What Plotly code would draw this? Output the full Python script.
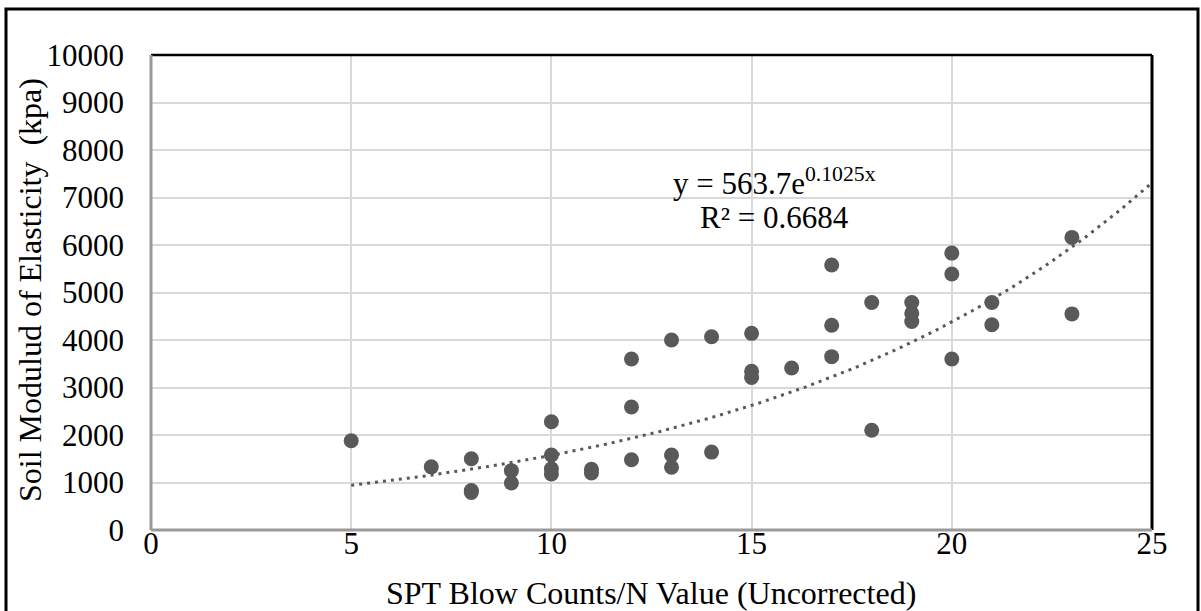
import numpy as np
import plotly.graph_objects as go

# Data
spt_n = [5, 7, 8, 8, 8, 9, 9, 10, 10, 10, 10, 11, 11, 12, 12, 12, 13, 13, 13,
         14, 14, 15, 15, 15, 16, 17, 17, 17, 18, 18, 19, 19, 19, 20, 20, 20,
         21, 21, 23, 23]
modulus_kpa = [1880, 1330, 1500, 830, 790, 1250, 990, 2280, 1580, 1290, 1180,
               1280, 1200, 3600, 2590, 1480, 4000, 1580, 1320, 4070, 1640,
               4140, 3340, 3210, 3410, 5580, 4310, 3650, 4790, 2100, 4790,
               4560, 4390, 5830, 5390, 3600, 4790, 4320, 6160, 4550]

# Exponential trendline shown on the chart
trend_a = 563.7
trend_b = 0.1025
trend_x_start, trend_x_end = 5, 25

x_ticks = [0, 5, 10, 15, 20, 25]
y_ticks = list(range(0, 10001, 1000))
y_tick_labels = [str(v) for v in y_ticks]

FONT = "Liberation Serif, Times New Roman, serif"
MARK = "#595959"
FS = 31

tx = np.linspace(trend_x_start, trend_x_end, 200)
ty = trend_a * np.exp(trend_b * tx)

fig = go.Figure()
fig.add_trace(go.Scatter(
    x=tx, y=ty, mode="lines",
    line=dict(color=MARK, width=3, dash="3px,5px"),
    hoverinfo="skip", showlegend=False))
fig.add_trace(go.Scatter(
    x=spt_n, y=modulus_kpa, mode="markers",
    marker=dict(color=MARK, size=15, line=dict(width=0)),
    showlegend=False))

fig.update_layout(
    width=1201, height=611,
    margin=dict(l=151, r=49, t=55, b=81),
    paper_bgcolor="white", plot_bgcolor="white",
    font=dict(family=FONT, size=FS, color="black"),
    xaxis=dict(range=[0, 25], tickvals=x_ticks, showgrid=True,
               gridcolor="#d9d9d9", gridwidth=2, zeroline=False,
               showline=False, ticks="", ticklabelstandoff=-8,
               tickfont=dict(family=FONT, size=FS, color="black")),
    yaxis=dict(range=[0, 10000], tickvals=y_ticks, ticktext=y_tick_labels,
               showgrid=True, gridcolor="#d9d9d9", gridwidth=2,
               zeroline=False, showline=False, ticks="",
               ticklabelstandoff=26,
               tickfont=dict(family=FONT, size=FS, color="black")),
    annotations=[
        dict(x=15.58, y=7330, xref="x", yref="y", showarrow=False,
             text="y = 563.7e<sup>0.1025x</sup>",
             font=dict(family=FONT, size=FS, color="black")),
        dict(x=15.58, y=6570, xref="x", yref="y", showarrow=False,
             text="R² = 0.6684", font=dict(family=FONT, size=FS, color="black")),
        dict(x=(651 - 151) / 1001, y=(530 - 593) / 475, xref="paper",
             yref="paper", showarrow=False, xanchor="center",
             yanchor="middle",
             text="SPT Blow Counts/N Value (Uncorrected)",
             font=dict(family=FONT, size=32, color="black")),
        dict(x=(30 - 151) / 1001, y=(530 - 290) / 475, xref="paper",
             yref="paper", showarrow=False, xanchor="center",
             yanchor="middle", textangle=-90,
             text="Soil Modulud of Elasticity  (kpa)",
             font=dict(family=FONT, size=32, color="black")),
    ],
    shapes=[
        # plot area borders
        dict(type="line", xref="paper", yref="paper", x0=0, x1=1, y0=1, y1=1,
             line=dict(color="black", width=2.5)),
        dict(type="line", xref="paper", yref="paper", x0=1, x1=1, y0=0, y1=1,
             line=dict(color="black", width=3)),
        dict(type="line", xref="paper", yref="paper", x0=0, x1=0, y0=0, y1=1,
             line=dict(color="#9a9a9a", width=3)),
        dict(type="line", xref="paper", yref="paper", x0=0, x1=1, y0=0, y1=0,
             line=dict(color="#9a9a9a", width=3)),
        # outer chart border
        dict(type="rect", xref="paper", yref="paper",
             x0=(6 - 151) / 1001, x1=(1198 - 151) / 1001,
             y0=-0.3, y1=(530 - 9) / 475,
             line=dict(color="black", width=3)),
    ],
)

fig.write_html("out.html")
